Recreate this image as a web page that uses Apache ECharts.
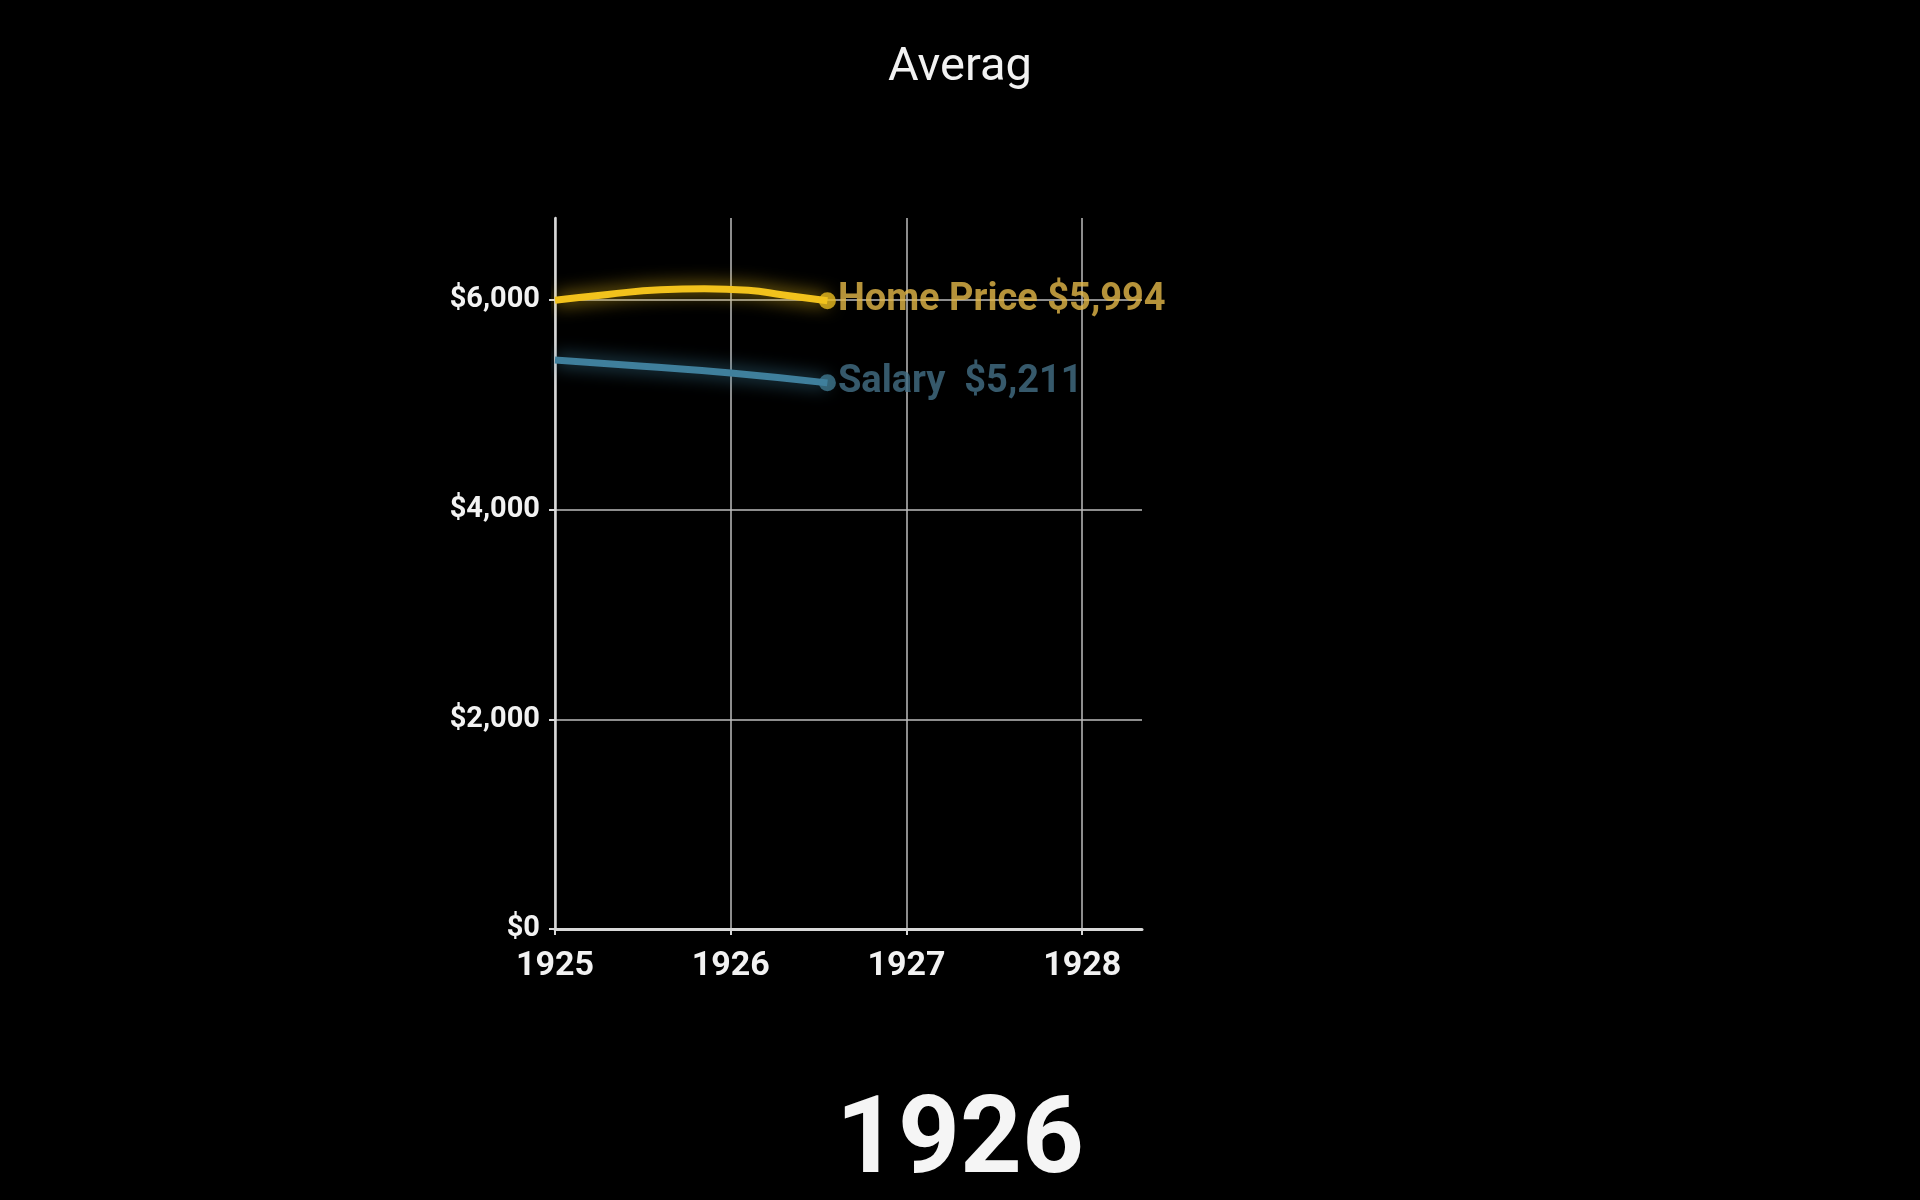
<!DOCTYPE html>
<html>
<head>
<meta charset="utf-8">
<script src="https://cdn.jsdelivr.net/npm/echarts@6/dist/echarts.min.js"></script>
<style>
  html, body { margin: 0; padding: 0; background: #000; }
  #main { width: 1920px; height: 1200px; }
</style>
</head>
<body>
<div id="main"></div>
<script>
// values
const years = [1925, 1926, 1927, 1928];
const yTicks = [0, 2000, 4000, 6000];
const homePrice = [
  [1925, 6000], [1925.3, 6055], [1925.6, 6100], [1925.85, 6110],
  [1926.1, 6095], [1926.3, 6050], [1926.55, 5994]
];
const salary = [
  [1925, 5430], [1925.5, 5370], [1926, 5305], [1926.55, 5211]
];
const titleText = 'Averag';
const currentYear = '1926';

const homeColor = '#f2c21c';
const salaryColor = '#3f7f9c';

let myChart = echarts.init(document.getElementById('main'));

const fmtMoney = v => '$' + Number(v).toLocaleString('en-US');

myChart.setOption({
  backgroundColor: '#000',
  animation: false,
  title: [
    {
      text: titleText,
      left: 'center',
      top: 40,
      textStyle: { color: '#f2f2f2', fontSize: 47, fontWeight: 'normal', fontFamily: 'Roboto' }
    },
    {
      text: currentYear,
      left: 'center',
      top: 1086,
      textStyle: { color: '#f5f5f5', fontSize: 108, fontWeight: 'bold', fontFamily: 'Roboto' }
    }
  ],
  grid: { left: 555, top: 218, width: 587, height: 711 },
  xAxis: {
    type: 'value',
    min: 1925,
    max: 1928.34,
    interval: 1,
    axisLine: { show: true, lineStyle: { color: '#d8d8d8', width: 3 } },
    axisTick: { show: true, length: 6, customValues: years, lineStyle: { color: '#d8d8d8', width: 2 } },
    axisLabel: {
      color: '#f2f2f2', fontSize: 34, fontWeight: 'bold', fontFamily: 'Roboto', margin: 20,
      customValues: years,
      formatter: v => String(v)
    },
    splitLine: { show: true, lineStyle: { color: '#bdbdbd', width: 1.5 } }
  },
  yAxis: {
    type: 'value',
    min: 0,
    max: 6784,
    interval: 2000,
    axisLine: { show: true, lineStyle: { color: '#d8d8d8', width: 2.5 } },
    axisTick: { show: true, length: 6, customValues: yTicks, lineStyle: { color: '#d8d8d8', width: 2 } },
    axisLabel: {
      color: '#f2f2f2', fontSize: 29, fontWeight: 'bold', fontFamily: 'Roboto', margin: 15,
      customValues: yTicks,
      formatter: v => fmtMoney(v)
    },
    splitLine: { show: true, lineStyle: { color: '#bdbdbd', width: 1.5 } }
  },
  series: [
    {
      name: 'Home Price',
      type: 'line',
      smooth: true,
      symbol: 'none',
      data: homePrice,
      lineStyle: { color: homeColor, width: 7, shadowBlur: 18, shadowColor: 'rgba(242,194,28,0.9)' }
    },
    {
      name: 'Salary',
      type: 'line',
      smooth: true,
      symbol: 'none',
      data: salary,
      lineStyle: { color: salaryColor, width: 7, shadowBlur: 18, shadowColor: 'rgba(63,127,156,0.9)' }
    },
    {
      type: 'scatter',
      symbolSize: 17,
      data: [homePrice[homePrice.length - 1]],
      itemStyle: { color: '#e8bb22' },
      label: {
        show: true, position: 'right', distance: 2,
        formatter: p => 'Home Price ' + fmtMoney(p.value[1]),
        color: '#e4b848', fontSize: 38, fontWeight: 'bold', fontFamily: 'Roboto'
      }
    },
    {
      type: 'scatter',
      symbolSize: 17,
      data: [salary[salary.length - 1]],
      itemStyle: { color: '#40788e' },
      label: {
        show: true, position: 'right', distance: 2,
        formatter: p => 'Salary  ' + fmtMoney(p.value[1]),
        color: '#436f86', fontSize: 38, fontWeight: 'bold', fontFamily: 'Roboto'
      }
    }
  ]
});

window.addEventListener('resize', () => { myChart.resize() });
</script>
</body>
</html>
